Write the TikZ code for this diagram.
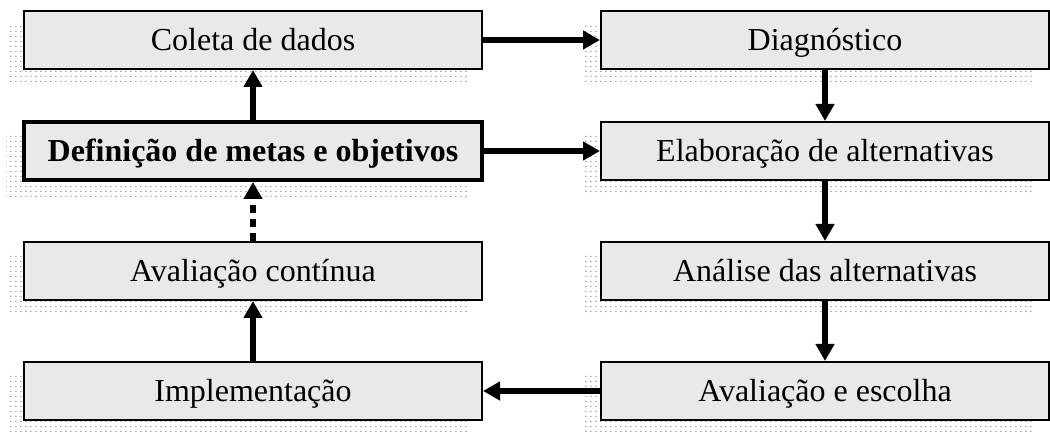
\documentclass[tikz,border=0pt]{standalone}
\usepackage{fontspec}
\setmainfont{Liberation Serif}
\usetikzlibrary{arrows.meta,patterns,backgrounds}
\definecolor{boxfill}{RGB}{233,233,233}
\definecolor{dotgray}{RGB}{170,170,170}
\pgfdeclarepatternformonly{mydots}{\pgfqpoint{0pt}{0pt}}{\pgfqpoint{2.5pt}{2.5pt}}{\pgfqpoint{2.5pt}{2.5pt}}{%
  \pgfpathrectangle{\pgfqpoint{0pt}{0pt}}{\pgfqpoint{0.9pt}{0.7pt}}\pgfusepath{fill}}
\tikzset{
  stage/.style={draw=black, line width=1pt, fill=boxfill, minimum height=29pt,
    inner sep=0pt, text height=11pt, text depth=0pt, font=\fontsize{16}{19}\selectfont},
  leftbox/.style={stage, minimum width=229pt},
  rightbox/.style={stage, minimum width=224pt},
  keybox/.style={line width=2pt, font=\fontsize{16}{19}\selectfont\bfseries},
  flow/.style={line width=2.8pt, -{Triangle[length=8.5pt,width=9pt]}},
  dotflow/.style={flow, dash pattern=on 4pt off 3pt},
  shade/.style={pattern=mydots, pattern color=dotgray}
}
\begin{document}
\begin{tikzpicture}[x=0.5pt,y=-0.5pt]
\useasboundingbox (0,0) rectangle (1050,432);
\node[leftbox] (coleta) at (253,40) {Coleta de dados};
\node[leftbox,keybox] (defin) at (253,151) {Definição de metas e objetivos};
\node[leftbox] (avcont) at (253,271) {Avaliação contínua};
\node[leftbox] (impl) at (253,391) {Implementação};
\node[rightbox] (diag) at (825,40) {Diagnóstico};
\node[rightbox] (elab) at (825,151) {Elaboração de alternativas};
\node[rightbox] (anal) at (825,271) {Análise das alternativas};
\node[rightbox] (escol) at (825,391) {Avaliação e escolha};
\begin{scope}[on background layer]
\foreach \n in {coleta,defin,avcont,impl,diag,elab,anal,escol}{
  \path[shade] ([xshift=-8pt,yshift=-7.5pt]\n.south west) rectangle ([xshift=-8pt,yshift=-7.5pt]\n.north east);
}
\end{scope}
\draw[flow] (coleta.east) -- (diag.west);
\draw[flow] (diag.south) -- (elab.north);
\draw[flow] (defin.east) -- (elab.west);
\draw[flow] (defin.north) -- (coleta.south);
\draw[dotflow] (avcont.north) -- (defin.south);
\draw[flow] (impl.north) -- (avcont.south);
\draw[flow] (elab.south) -- (anal.north);
\draw[flow] (anal.south) -- (escol.north);
\draw[flow] (escol.west) -- (impl.east);
\end{tikzpicture}
\end{document}
